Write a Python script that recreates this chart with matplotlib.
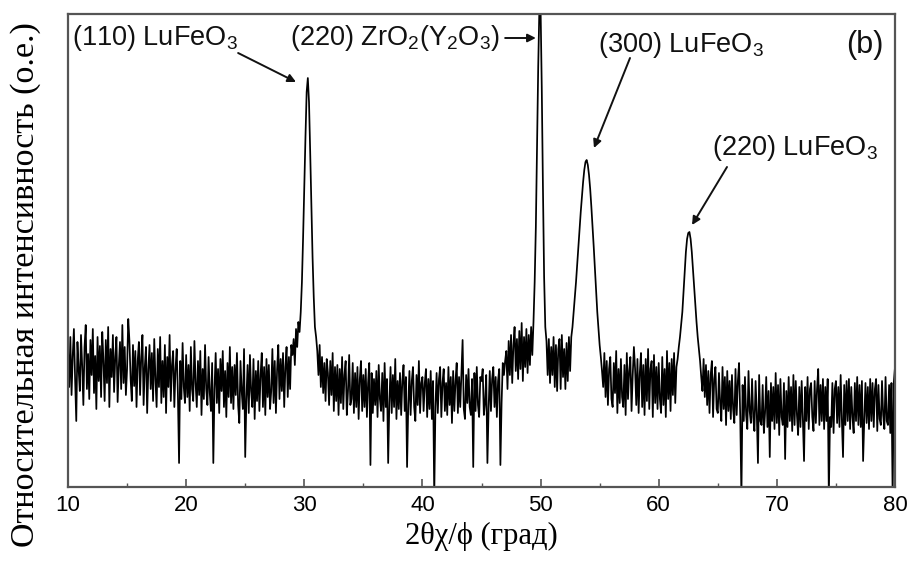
import numpy as np
import matplotlib
matplotlib.use("Agg")
import matplotlib.pyplot as plt
from matplotlib.ticker import MultipleLocator

# 2theta range and intensity (arb. units), 0.1 deg step, 10..80
theta_start, theta_end = 10.0, 80.0
intensity = [
    # 10
    138, 100, 150, 92, 131, 158, 108, 66, 145, 118,
    96, 152, 121, 82, 140, 162, 98, 133, 88, 147,
    112, 158, 94, 131, 78, 150, 106, 141, 90, 155,
    126, 86, 147, 104, 160, 80, 138, 110, 152, 95,
    130, 150, 85, 121, 145, 98, 162, 104, 140, 92,
    # 15
    118, 168, 146, 108, 86, 142, 101, 136, 80, 126,
    145, 92, 130, 152, 82, 120, 140, 74, 118, 142,
    98, 134, 86, 148, 108, 80, 138, 100, 150, 84,
    126, 90, 142, 74, 130, 100, 152, 86, 122, 136,
    80, 118, 138, 94, 24, 126, 88, 144, 100, 84,
    # 20
    132, 90, 122, 76, 140, 98, 86, 146, 104, 80,
    126, 92, 136, 72, 118, 88, 142, 98, 82, 130,
    94, 76, 124, 24, 98, 134, 84, 118, 74, 128,
    96, 136, 80, 116, 70, 124, 90, 140, 84, 120,
    78, 122, 92, 134, 82, 64, 126, 96, 78, 138,
    # 25
    30, 88, 122, 74, 132, 96, 80, 128, 68, 116,
    86, 126, 76, 112, 134, 80, 120, 72, 128, 90,
    122, 78, 96, 138, 84, 126, 74, 118, 142, 88,
    128, 96, 134, 80, 120, 140, 90, 130, 98, 142,
    132, 148, 122, 158, 140, 165, 155, 175, 205, 250,
    # 30
    300, 350, 395, 409, 385, 335, 280, 230, 190, 160,
    150, 136, 112, 142, 100, 130, 94, 124, 86, 128,
    114, 82, 126, 92, 134, 76, 120, 86, 122, 72,
    118, 84, 130, 78, 112, 126, 72, 96, 132, 82,
    88, 124, 74, 114, 80, 120, 68, 108, 126, 76,
    # 35
    112, 80, 118, 70, 104, 124, 22, 114, 74, 108,
    82, 116, 70, 122, 88, 76, 114, 66, 124, 80,
    108, 24, 84, 120, 74, 112, 80, 128, 68, 106,
    78, 114, 72, 106, 122, 76, 110, 20, 82, 116,
    72, 106, 120, 80, 66, 112, 82, 126, 74, 104,
    # 40
    110, 76, 104, 118, 70, 108, 78, 116, 68, 106,
    -10, 80, 114, 74, 108, 120, 70, 104, 118, 76,
    104, 72, 120, 82, 110, 64, 116, 76, 106, 124,
    74, 110, 80, 114, 147, 78, 68, 112, 84, 118,
    80, 72, 108, 20, 114, 76, 120, 82, 70, 110,
    # 45
    106, 118, 72, 84, 112, 24, 78, 116, 76, 108,
    120, 80, 110, 70, 106, 118, 22, 84, 124, 112,
    126, 136, 98, 146, 112, 152, 104, 142, 160, 116,
    148, 108, 156, 118, 164, 106, 150, 120, 158, 114,
    152, 122, 160, 132, 165, 205, 260, 340, 420, 480,
    # 50
    480, 400, 300, 210, 160, 146, 112, 148, 104, 140,
    112, 150, 100, 142, 96, 138, 148, 98, 152, 110,
    138, 98, 144, 106, 150, 116, 150, 160, 175, 190,
    205, 222, 240, 258, 275, 290, 305, 317, 325, 327,
    322, 312, 298, 280, 260, 240, 218, 195, 175, 158,
    # 55
    142, 130, 116, 100, 134, 90, 126, 82, 118, 130,
    88, 80, 124, 94, 136, 74, 118, 84, 128, 90,
    80, 122, 72, 134, 88, 116, 130, 76, 112, 140,
    118, 82, 128, 74, 114, 134, 80, 122, 72, 128,
    86, 138, 78, 118, 126, 70, 132, 84, 120, 78,
    # 60
    124, 88, 74, 130, 82, 118, 70, 136, 88, 124,
    76, 128, 92, 134, 84, 120, 128, 140, 150, 162,
    175, 195, 215, 235, 248, 254, 255, 248, 235, 218,
    200, 182, 165, 150, 138, 126, 110, 96, 128, 90,
    122, 82, 116, 74, 112, 126, 70, 108, 120, 78,
    # 65
    74, 114, 84, 66, 120, 78, 110, 62, 116, 76,
    106, 68, 112, 78, 64, 118, 72, 106, 124, 70,
    -10, 102, 66, 110, 72, 58, 116, 76, 64, 108,
    70, 56, 106, 74, 24, 112, 66, 62, 102, 54,
    74, 110, 60, 96, 30, 104, 66, 100, 58, 114,
    # 70
    64, 102, 52, 108, 70, 62, 104, 28, 96, 60,
    110, 66, 100, 56, 112, 62, 106, 72, 52, 100,
    60, 106, 68, 26, 100, 66, 110, 58, 98, 104,
    70, 56, 106, 64, 98, 118, 62, 102, 66, 108,
    58, 100, 66, 108, -10, 70, 60, 104, 54, 98,
    # 75
    106, 64, 100, 60, 112, 68, 30, 102, 62, 106,
    66, 108, 58, 100, 70, 54, 104, 66, 110, 62,
    102, 60, 106, 26, 68, 104, 64, 100, 58, 108,
    66, 104, 60, 98, 108, 56, 102, 68, 62, 106,
    72, 58, 110, 66, 62, 102, 54, 104, -10, 105,
    # 80
    120,
]
two_theta = np.linspace(theta_start, theta_end, len(intensity))

x_ticks = [10, 20, 30, 40, 50, 60, 70, 80]

labels = [
    # text, text x, text y, arrow tail (x, y), arrow head (x, y)
    (r"(110) LuFeO$_3$", 10.34, 449, (24.4, 434), (29.3, 405)),
    (r"(220) ZrO$_2$(Y$_2$O$_3$)", 28.8, 449, (47.0, 449), (49.6, 449)),
    (r"(300) LuFeO$_3$", 54.86, 442, (57.57, 429), (54.52, 339)),
    (r"(220) LuFeO$_3$", 64.51, 339, (65.78, 320), (62.82, 262)),
]

plt.rcParams['mathtext.default'] = 'regular'
plt.rcParams['font.family'] = ['Liberation Sans', 'DejaVu Sans']

fig = plt.figure(figsize=(9.13, 5.62), dpi=100)
ax = fig.add_axes([68/913, 1-487/562, (895-68)/913, (487-14)/562])

ax.plot(two_theta, intensity, color='black', lw=1.25)

ax.set_xlim(10, 80)
ax.set_ylim(0, 473)
ax.set_xticks(x_ticks)
ax.xaxis.set_minor_locator(MultipleLocator(5))
ax.set_yticks([])
ax.tick_params(axis='x', which='major', direction='in', length=6, width=1.2,
               color='#555555', labelsize=16, pad=6)
ax.tick_params(axis='x', which='minor', direction='in', length=3, width=1.0,
               color='#555555')
for s in ax.spines.values():
    s.set_color('#555555')
    s.set_linewidth(1.6)

for txt, tx, ty, tail, head in labels:
    ax.text(tx, ty, txt, fontsize=19.5, ha='left', va='center', color='#111111')
    ax.annotate('', xy=head, xytext=tail,
                arrowprops=dict(arrowstyle='-|>', color='#111111', lw=1.4,
                                mutation_scale=12, shrinkA=0, shrinkB=0))

ax.text(77.46, 442, "(b)", fontsize=22, ha='center', va='center', color='#111111')

ax.set_xlabel("2θχ/ϕ (град)", family=['Liberation Serif', 'DejaVu Serif'],
              fontsize=22, labelpad=4)
fig.text(26/913, 1-285/562, "Относительная интенсивность (о.е.)",
         family=['Liberation Serif', 'DejaVu Serif'], fontsize=24.5,
         rotation=90, ha='center', va='center')

fig.savefig("out.png", dpi=100)
